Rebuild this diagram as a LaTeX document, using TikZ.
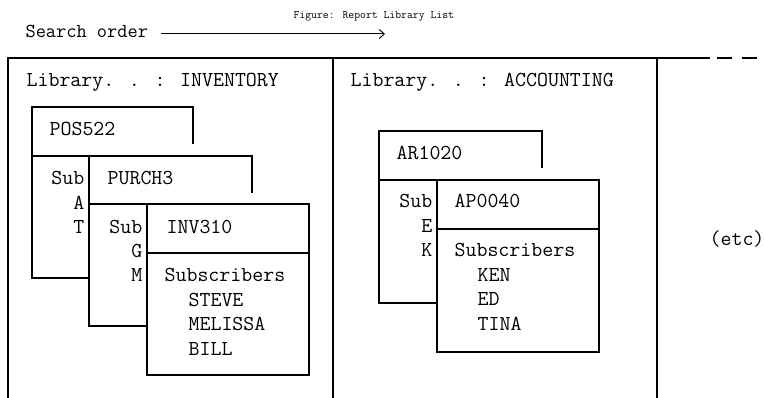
\documentclass[tikz,border=0pt]{standalone}
\usepackage{fontspec}
\usepackage{tikz}
\usetikzlibrary{arrows.meta,positioning}

\begin{document}
\begin{tikzpicture}[
    x=1pt, y=-1pt,
    line width=1.2pt,
    txt/.style={anchor=west, inner sep=0pt, font=\ttfamily\fontsize{21.3}{22}\selectfont, text height=0.61em, text depth=0pt},
    rtxt/.style={txt, anchor=east},
    title/.style={anchor=west, inner sep=0pt, font=\ttfamily\fontsize{11.4}{12}\selectfont, text height=0.61em, text depth=0pt},
    order/.style={anchor=west, inner sep=0pt, font=\ttfamily\fontsize{19.8}{20}\selectfont, text height=0.61em, text depth=0pt}
]
\useasboundingbox (0,0) rectangle (764,398);

\node[title] (fig) at (293,15) {Figure: Report Library List};
\node[order] (search) at (25,34) {Search order};
\coordinate (searchend) at (385,34);
\draw[-{Straight Barb[length=5pt,width=9pt]}, line width=1pt] ([xshift=12pt]search.east) -- (searchend);

\draw (8,398) -- (8,58) -- (710,58);
\draw[dash pattern=on 15pt off 10pt] (717,58) -- (757,58);
\draw (333,58) -- (333,398);
\draw (657,58) -- (657,398);

\node[txt] (libinv) at (26,83) {Library. . : INVENTORY};
\node[txt] (libacc) at (350,83) {Library. . : ACCOUNTING};
\node[txt] (etc) at (709,242) {(etc)};

\draw (193,144) -- (193,107) -- (32,107) -- (32,278) -- (89,278);
\draw (32,156) -- (89,156);
\draw (252,193) -- (252,156) -- (89,156) -- (89,326) -- (147,326);
\draw (89,204) -- (147,204);
\draw (147,204) rectangle (309,375);
\draw (147,253) -- (309,253);

\node[txt] (pos) at (49,132) {POS522};
\node[rtxt] (possub) at (85,181) {Sub};
\node[rtxt] (posa) at (85,206) {A};
\node[rtxt] (post) at (85,230) {T};
\node[txt] (purch) at (107,181) {PURCH3};
\node[rtxt] (purchsub) at (143,230) {Sub};
\node[rtxt] (purchg) at (143,254) {G};
\node[rtxt] (purchm) at (143,278) {M};
\node[txt] (inv) at (166,230) {INV310};
\node[txt] (invsubs) at (164,278) {Subscribers};
\node[txt] (steve) at (188,303) {STEVE};
\node[txt] (melissa) at (188,327) {MELISSA};
\node[txt] (bill) at (188,352) {BILL};

\draw (542,168) -- (542,131) -- (379,131) -- (379,303) -- (437,303);
\draw (379,180) -- (437,180);
\draw (437,180) rectangle (599,352);
\draw (437,229) -- (599,229);

\node[txt] (ar) at (396,156) {AR1020};
\node[rtxt] (arsub) at (433,204) {Sub};
\node[rtxt] (are) at (433,229) {E};
\node[rtxt] (ark) at (433,253) {K};
\node[txt] (ap) at (454,204) {AP0040};
\node[txt] (apsubs) at (454,253) {Subscribers};
\node[txt] (ken) at (477,278) {KEN};
\node[txt] (ed) at (477,302) {ED};
\node[txt] (tina) at (477,327) {TINA};

\end{tikzpicture}
\end{document}
